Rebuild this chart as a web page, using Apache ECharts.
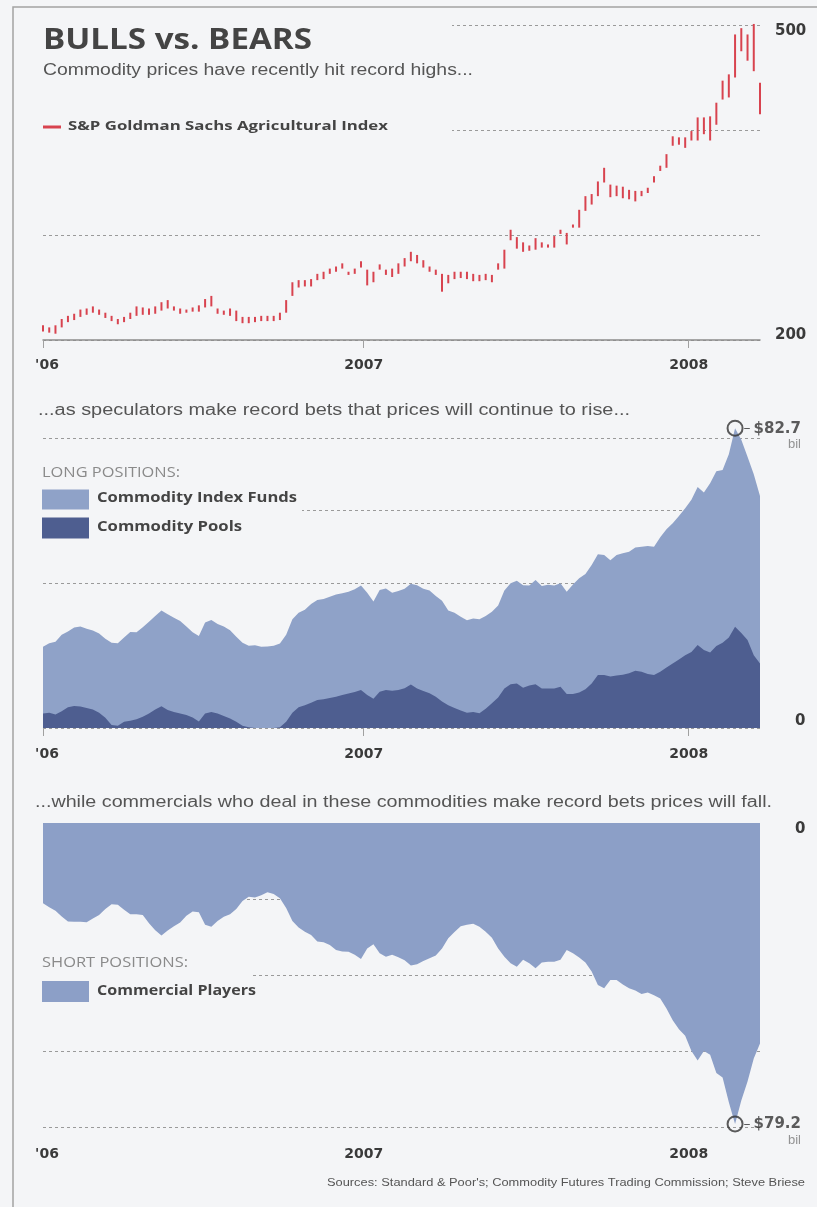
<!DOCTYPE html>
<html><head><meta charset="utf-8">
<script src="https://cdn.jsdelivr.net/npm/echarts@6/dist/echarts.min.js"></script>
<style>html,body{margin:0;padding:0;background:#f4f5f7;}#c{width:817px;height:1207px;}</style>
</head><body><div id="c"></div>
<script>
// ---------- data ----------
const firstWeek = '2006-01-06';
const weekCount = 116;
const priceLow = [208,207,206,212,217,219,222,224,226,224,221,218,215,217,220,223,224,224,225,228,
230,228,225,226,227,227,231,232,225,224,223,218,216,216,217,218,218,218,219,226,
242,250,251,251,257,258,263,265,268,262,263,269,252,255,267,262,260,263,270,275,
273,269,265,262,246,254,258,259,258,256,256,257,255,267,268,295,287,284,285,286,
288,288,288,301,291,307,307,323,329,337,350,336,337,335,334,332,337,340,350,361,
364,385,386,383,390,390,396,390,405,429,431,450,475,466,456,415];
const priceHigh = [214,212,214,220,223,225,229,230,232,229,226,223,220,222,226,232,231,230,232,236,
238,232,230,229,231,233,239,242,230,228,230,228,222,222,222,223,223,223,226,238,
255,257,257,258,263,265,268,270,273,265,268,275,267,265,272,267,268,273,278,284,
281,276,270,267,263,262,265,265,265,263,262,263,262,273,286,305,298,293,290,297,
293,291,299,305,302,310,324,337,339,351,364,348,347,346,343,342,342,345,356,366,
377,394,393,393,399,412,412,413,426,447,453,491,497,491,501,445];
const indexFunds = [22.4,23.4,23.8,25.7,26.6,27.7,28.0,27.4,26.9,26.1,
24.6,23.5,23.4,25.0,26.5,26.4,27.8,29.3,30.9,32.4,
31.4,30.4,29.5,28.0,26.4,25.4,29.1,29.8,28.7,28.0,
27.0,25.2,23.5,22.7,22.8,22.4,22.5,22.7,23.3,25.7,
30.0,31.8,32.6,34.2,35.3,35.6,36.2,36.8,37.2,37.6,
38.3,39.3,37.3,34.9,38.1,38.5,37.3,37.8,38.4,39.8,
39.4,38.4,37.9,36.4,35.1,32.4,31.8,30.7,29.7,30.2,
30.0,30.9,32.1,33.8,37.9,39.9,40.6,39.4,39.3,40.8,
39.2,39.5,39.3,39.9,37.6,39.6,41.3,42.5,45.0,47.9,
47.7,46.3,47.7,48.2,48.6,49.8,50.0,50.2,50.0,52.6,
54.8,56.5,58.5,60.6,63.0,66.5,65.0,67.5,70.8,71.2,
75.5,82.7,79.5,74.8,70.0,64.0];
const commodityPools = [4.0,4.2,3.7,4.6,5.7,6.1,5.9,5.5,5.1,4.2,
2.8,0.8,0.6,1.7,2.0,2.4,3.1,4.0,5.1,6.0,
5.0,4.4,4.0,3.6,2.9,1.8,4.0,4.4,4.0,3.3,
2.6,1.7,0.6,0.2,0,0,0,0,0.2,1.7,
4.2,5.7,6.3,7.0,7.7,7.9,8.3,8.6,9.1,9.5,
9.9,10.5,9.1,8.1,10.0,10.5,10.3,10.5,11.0,12.0,
10.9,10.2,9.6,8.6,7.3,6.3,5.5,4.8,4.2,4.4,
4.1,5.3,6.8,8.4,10.9,12.1,12.3,11.1,11.7,12.1,
10.9,10.9,10.9,11.4,9.4,9.4,9.8,10.7,12.3,14.6,
14.6,14.2,14.5,14.7,15.1,15.8,15.5,14.9,14.6,15.5,
16.7,17.8,18.9,20.1,21.0,22.9,21.5,20.8,22.6,23.5,
25.0,27.9,26.2,24.3,20.1,17.8];
const commercialPlayers = [21.1,22.2,23.1,24.6,25.9,26.0,26.0,26.1,25.1,24.2,
22.6,21.4,21.5,22.8,24.0,24.0,24.2,26.4,28.2,29.6,
28.3,27.2,26.2,24.4,23.3,23.5,26.8,27.3,25.8,24.7,
24.0,22.6,20.5,19.4,19.6,19.0,18.2,18.7,19.8,22.4,
25.8,27.5,28.6,29.5,31.2,31.4,32.1,33.4,33.8,33.9,
34.7,35.8,33.0,31.9,34.3,35.2,34.7,35.3,36.1,37.5,
37.2,36.3,35.6,34.9,33.0,30.3,28.7,27.2,26.8,26.5,
27.3,28.6,30.2,33.0,35.2,36.9,37.8,36.0,36.9,38.2,
36.7,36.5,36.5,36.0,33.4,34.3,35.4,36.7,39.1,42.6,
43.5,41.3,41.3,42.5,43.5,44.1,45.0,44.6,45.3,46.2,
48.8,51.9,54.3,56.0,60.0,62.5,60.0,61.0,65.8,67.0,
73.5,79.2,73.0,68.0,62.0,58.0];
const yearTickDates = ['2006-01-06','2007-01-01','2008-01-01'];
const yearTickLabels = ["'06",'2007','2008'];
const priceAxisLabels = [200,500];

// ---------- helpers ----------
const BG = '#f4f5f7';
function dayOf(s){ return (Date.parse(s) - Date.parse('2006-01-01')) / 86400000; }
const weeks = [];
for (let i = 0; i < weekCount; i++) {
  const d = new Date(Date.parse(firstWeek) + i * 7 * 86400000);
  weeks.push(d.toISOString().slice(0,10));
}
const days = weeks.map(dayOf);
const tickDays = yearTickDates.map(dayOf);
const pricePts = days.map((d,i) => [d, priceLow[i], priceHigh[i]]);
const idxPts = days.map((d,i) => [d, indexFunds[i]]);
const poolPts = days.map((d,i) => [d, commodityPools[i]]);
const comPts = days.map((d,i) => [d, commercialPlayers[i]]);
const peakI = indexFunds.indexOf(Math.max(...indexFunds));
const troughI = commercialPlayers.indexOf(Math.max(...commercialPlayers));

const ctx = document.createElement('canvas').getContext('2d');
function fitText(text, font, left, cy, width, fill){
  ctx.font = font; const w = ctx.measureText(text).width;
  return {type:'text', x:left, y:cy, scaleX: width / w, z: 10,
    style:{text, font, fill, verticalAlign:'middle', align:'left'}};
}
const NUMFONT = {fontFamily:'DejaVu Sans', fontWeight:'bold', fontSize:14, color:'#3a3a3a'};

function xAxisFor(k, margin, tickLen, showLine){
  return {
    type:'value', gridIndex:k, min: days[0], max: days[days.length-1],
    axisLine:{show: showLine, lineStyle:{color:'#8c8c8c', width:1.5}},
    axisTick:{show:true, customValues: tickDays, length: tickLen, lineStyle:{color:'#a0a0a0', width:1}},
    splitLine:{show:false},
    axisLabel:Object.assign({}, NUMFONT, {
      customValues: tickDays, margin: margin,
      formatter: v => { const j = tickDays.indexOf(v); if (j < 0) return ''; return j === 0 ? '{f|' + yearTickLabels[j] + '}' : yearTickLabels[j]; },
      rich:{f:Object.assign({}, NUMFONT, {padding:[0,0,0,8]})}
    })
  };
}
const dashSplit = {show:true, lineStyle:{color:'#9a9a9a', type:[3,3], width:1}};

const option = {
  backgroundColor: BG,
  animation: false,
  grid: [
    {left:43, width:717, top:25, height:315},
    {left:43, width:717, top:438, height:290},
    {left:43, width:717, top:823, height:304}
  ],
  xAxis: [xAxisFor(0, 18, 8, true), xAxisFor(1, 19, 8, false), xAxisFor(2, 20, 8, false)],
  yAxis: [
    {type:'value', gridIndex:0, position:'right', min:200, max:500, interval:100,
     axisLine:{show:false}, axisTick:{show:false}, splitLine: dashSplit,
     axisLabel:Object.assign({}, NUMFONT, {fontSize:15, margin:15,
       formatter: v => priceAxisLabels.indexOf(v) < 0 ? '' : (v === 500 ? '{lo|' + v + '}' : '{hi|' + v + '}'),
       rich:{lo:Object.assign({}, NUMFONT, {fontSize:15, padding:[13,0,0,0]}), hi:Object.assign({}, NUMFONT, {fontSize:15, padding:[0,0,10,0]})}})},
    {type:'value', gridIndex:1, position:'right', min:0, max:80, interval:20,
     axisLine:{show:false}, axisTick:{show:false}, splitLine: dashSplit,
     axisLabel:Object.assign({}, NUMFONT, {fontSize:15, margin:35,
       formatter: v => v === 0 ? '{hi|0}' : '',
       rich:{hi:Object.assign({}, NUMFONT, {fontSize:15, padding:[0,0,14,0]})}})},
    {type:'value', gridIndex:2, position:'right', min:0, max:80, interval:20, inverse:true,
     axisLine:{show:false}, axisTick:{show:false}, splitLine: dashSplit,
     axisLabel:Object.assign({}, NUMFONT, {fontSize:15, margin:35,
       formatter: v => v === 0 ? '{lo|0}' : '',
       rich:{lo:Object.assign({}, NUMFONT, {fontSize:15, padding:[12,0,0,0]})}})}
  ],
  series: [
    {type:'custom', name:'S&P Goldman Sachs Agricultural Index', xAxisIndex:0, yAxisIndex:0, clip:false,
     data: pricePts, encode:{x:0, y:[1,2]},
     renderItem: (params, api) => {
       const x = api.value(0);
       const a = api.coord([x, api.value(1)]);
       const b = api.coord([x, api.value(2)]);
       return {type:'line', shape:{x1:a[0], y1:a[1], x2:b[0], y2:b[1]}, style:{stroke:'#d8434f', lineWidth:2}};
     }},
    {type:'line', name:'Commodity Index Funds', xAxisIndex:1, yAxisIndex:1, data: idxPts, symbol:'none', clip:false,
     lineStyle:{width:0}, areaStyle:{color:'#8fa2c8', opacity:1}, z:2},
    {type:'line', name:'Commodity Pools', xAxisIndex:1, yAxisIndex:1, data: poolPts, symbol:'none', clip:false,
     lineStyle:{width:0}, areaStyle:{color:'#4e5e90', opacity:1}, z:3},
    {type:'scatter', xAxisIndex:1, yAxisIndex:1, clip:false, z:5, silent:true,
     data:[[days[peakI], indexFunds[peakI]]], symbol:'circle', symbolSize:15,
     itemStyle:{color:'rgba(0,0,0,0)', borderColor:'#333', borderWidth:2},
     label:{show:true, position:'right', distance:0, offset:[0,8],
       formatter: p => '{d|\u2013}{v|$' + p.value[1].toFixed(1) + '}\n{b|bil}',
       rich:{d:{fontFamily:'DejaVu Sans', fontSize:14, color:'#333', lineHeight:16, padding:[0,3,0,0]},
             v:{fontFamily:'DejaVu Sans', fontWeight:'bold', fontSize:15, color:'#333', lineHeight:16},
             b:{fontFamily:'Liberation Sans', fontSize:13, color:'#7a7a7a', align:'right', lineHeight:15}}}},
    {type:'line', name:'Commercial Players', xAxisIndex:2, yAxisIndex:2, data: comPts, symbol:'none', clip:false,
     lineStyle:{width:0}, areaStyle:{color:'#8c9fc7', opacity:1}, z:2},
    {type:'scatter', xAxisIndex:2, yAxisIndex:2, clip:false, z:5, silent:true,
     data:[[days[troughI], commercialPlayers[troughI]]], symbol:'circle', symbolSize:15,
     itemStyle:{color:'rgba(0,0,0,0)', borderColor:'#333', borderWidth:2},
     label:{show:true, position:'right', distance:0, offset:[0,8],
       formatter: p => '{d|\u2013}{v|$' + p.value[1].toFixed(1) + '}\n{b|bil}',
       rich:{d:{fontFamily:'DejaVu Sans', fontSize:14, color:'#333', lineHeight:16, padding:[0,3,0,0]},
             v:{fontFamily:'DejaVu Sans', fontWeight:'bold', fontSize:15, color:'#333', lineHeight:16},
             b:{fontFamily:'Liberation Sans', fontSize:13, color:'#7a7a7a', align:'right', lineHeight:15}}}}
  ],
  graphic: [
    {type:'polyline', z:10, shape:{points:[[13,1207],[13,7],[817,7]]}, style:{stroke:'#a3a3a3', lineWidth:1.5, fill:null}},
    {type:'rect', z:1, shape:{x:14, y:12, width:438, height:128}, style:{fill:BG}},
    {type:'rect', z:1, shape:{x:14, y:450, width:288, height:95}, style:{fill:BG}},
    {type:'rect', z:1, shape:{x:14, y:945, width:236, height:63}, style:{fill:BG}},
    fitText('BULLS vs. BEARS', 'bold 28px "Open Sans"', 43, 41, 269, '#444'),
    fitText('Commodity prices have recently hit record highs...', '16px "Liberation Sans"', 43, 71, 430, '#555'),
    {type:'rect', z:10, shape:{x:43, y:125.5, width:18, height:3}, style:{fill:'#d8434f'}},
    fitText('S&P Goldman Sachs Agricultural Index', 'bold 13px "Open Sans"', 68, 126.5, 320, '#444'),
    fitText('...as speculators make record bets that prices will continue to rise...', '16px "Liberation Sans"', 38, 411, 592, '#555'),
    fitText('LONG POSITIONS:', '14px "Open Sans"', 42, 473, 138, '#8a8a8a'),
    {type:'rect', z:10, shape:{x:42, y:489.5, width:47, height:20}, style:{fill:'#8fa2c8'}},
    {type:'rect', z:10, shape:{x:42, y:517.5, width:47, height:21}, style:{fill:'#4e5e90'}},
    fitText('Commodity Index Funds', 'bold 15px "Open Sans"', 97, 497.5, 200, '#444'),
    fitText('Commodity Pools', 'bold 15px "Open Sans"', 97, 526.5, 145, '#444'),
    fitText('...while commercials who deal in these commodities make record bets prices will fall.', '16px "Liberation Sans"', 35, 803, 737, '#555'),
    fitText('SHORT POSITIONS:', '14px "Open Sans"', 42, 963, 146, '#8a8a8a'),
    {type:'rect', z:10, shape:{x:42, y:981, width:47, height:21}, style:{fill:'#8c9fc7'}},
    fitText('Commercial Players', 'bold 15px "Open Sans"', 97, 990.5, 159, '#444'),
    fitText("Sources: Standard & Poor's; Commodity Futures Trading Commission; Steve Briese", '10px "Liberation Sans"', 327, 1183, 478, '#555')
  ]
};
const chart = echarts.init(document.getElementById('c'), null, {renderer:'canvas'});
chart.setOption(option);
</script></body></html>
